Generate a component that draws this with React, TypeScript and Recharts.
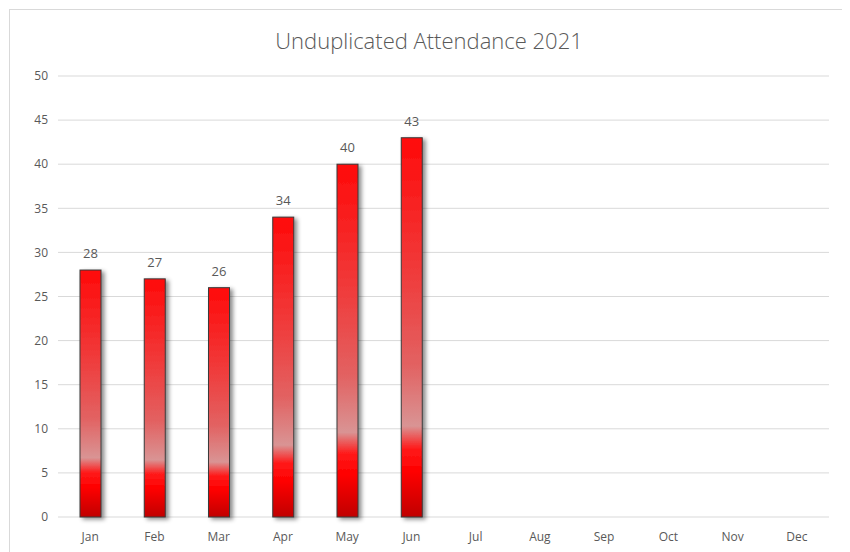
import React from 'react';
import { BarChart, Bar, XAxis, YAxis, CartesianGrid, LabelList } from 'recharts';

const months = ['Jan', 'Feb', 'Mar', 'Apr', 'May', 'Jun', 'Jul', 'Aug', 'Sep', 'Oct', 'Nov', 'Dec'];
const attendance: (number | null)[] = [28, 27, 26, 34, 40, 43, null, null, null, null, null, null];
const yTicks = [0, 5, 10, 15, 20, 25, 30, 35, 40, 45, 50];

const data = months.map((m, i) => ({ month: m, value: attendance[i] }));

const font = '"Open Sans", "Liberation Sans", sans-serif';

const ShadowBar = (props: any) => {
  const { x, y, width, height } = props;
  if (!height || height <= 0) return null;
  return (
    <rect
      x={x}
      y={y}
      width={width}
      height={height}
      fill="url(#redGrad)"
      stroke="#3a3a3a"
      strokeWidth={1}
      filter="url(#barShadow)"
    />
  );
};

const ValueLabel = (props: any) => {
  const { x, y, width, value } = props;
  if (value == null) return null;
  return (
    <text x={x + width / 2} y={y - 12} textAnchor="middle" fill="#595959" fontSize={13} fontFamily={font}>
      {value}
    </text>
  );
};

const App: React.FC = () => {
  return (
    <div
      style={{
        position: 'relative',
        width: 838,
        height: 560,
        border: '1px solid #d9d9d9',
        margin: '1px 0 0 1px',
        background: '#fff',
      }}
    >
      <div
        style={{
          position: 'absolute',
          top: 15,
          left: 0,
          width: 838,
          textAlign: 'center',
          fontFamily: font,
          fontSize: 22,
          fontWeight: 300,
          color: '#595959',
        }}
      >
        Unduplicated Attendance 2021
      </div>
      <BarChart
        width={838}
        height={550}
        data={data}
        margin={{ top: 66, right: 19, left: 8, bottom: 13 }}
      >
        <defs>
          <linearGradient id="redGrad" x1="0" y1="0" x2="0" y2="1">
            <stop offset="0%" stopColor="#ff0a0a" />
            <stop offset="35%" stopColor="#f03a3a" />
            <stop offset="60%" stopColor="#e26262" />
            <stop offset="76%" stopColor="#d99494" />
            <stop offset="82%" stopColor="#ff1a1a" />
            <stop offset="88%" stopColor="#ff0000" />
            <stop offset="100%" stopColor="#c00000" />
          </linearGradient>
          <filter id="barShadow" x="-30%" y="-10%" width="170%" height="130%">
            <feDropShadow dx="3" dy="2" stdDeviation="2" floodColor="#000" floodOpacity="0.45" />
          </filter>
        </defs>
        <CartesianGrid vertical={false} stroke="#d9d9d9" />
        <XAxis
          dataKey="month"
          axisLine={false}
          tickLine={false}
          height={30}
          tick={{ fill: '#595959', fontSize: 12, fontFamily: font }}
          tickMargin={9}
        />
        <YAxis
          domain={[0, 50]}
          ticks={yTicks}
          width={40}
          axisLine={false}
          tickLine={false}
          tick={{ fill: '#595959', fontSize: 12, fontFamily: font }}
          tickMargin={4}
        />
        <Bar dataKey="value" barSize={21} shape={ShadowBar} isAnimationActive={false}>
          <LabelList dataKey="value" content={ValueLabel} />
        </Bar>
      </BarChart>
    </div>
  );
};

export default App;
